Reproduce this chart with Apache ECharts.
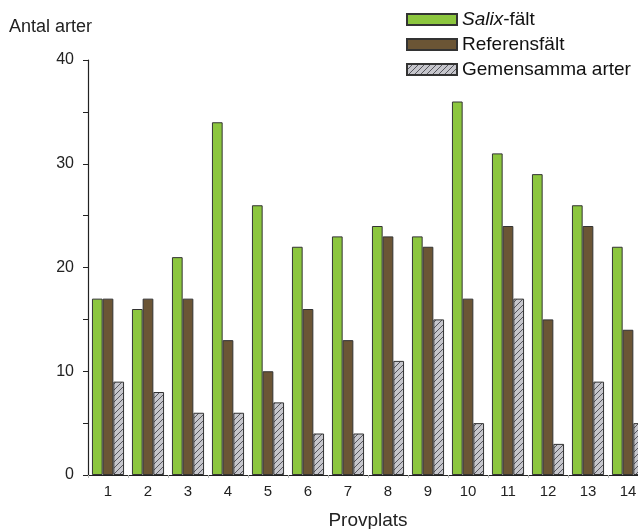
<!DOCTYPE html>
<html><head><meta charset="utf-8">
<script src="https://cdn.jsdelivr.net/npm/echarts@6/dist/echarts.min.js"></script>
<style>html,body{margin:0;padding:0;background:#fff}#c{width:638px;height:529px}</style>
</head><body><div id="c"></div>
<script>
var categories = ['1','2','3','4','5','6','7','8','9','10','11','12','13','14'];
var salix = [17,16,21,34,26,22,23,24,23,36,31,29,26,22];
var referens = [17,17,17,13,10,16,13,23,22,17,24,15,24,14];
var gemensamma = [9,8,6,6,7,4,4,11,15,5,17,3,9,5];
var seriesNames = ['Salix-fält','Referensfält','Gemensamma arter'];

function hatch(){
  var c = document.createElement('canvas');
  c.width = 6; c.height = 6;
  var g = c.getContext('2d');
  g.fillStyle = '#c6c6cc'; g.fillRect(0,0,6,6);
  g.strokeStyle = '#4a4a50'; g.lineWidth = 0.9;
  g.beginPath();
  g.moveTo(0,6); g.lineTo(6,0);
  g.moveTo(-3,3); g.lineTo(3,-3);
  g.moveTo(3,9); g.lineTo(9,3);
  g.stroke();
  return {image: c, repeat: 'repeat'};
}
var hatchFill = hatch();

var chart = echarts.init(document.getElementById('c'), null, {renderer:'canvas'});
var font = 'Arial, "Liberation Sans", sans-serif';
chart.setOption({
  animation: false,
  textStyle: {fontFamily: font},
  grid: {left: 88, width: 560, top: 60, bottom: 54, containLabel: false, outerBoundsMode: 'none'},
  legend: {
    orient: 'vertical', left: 401, top: 5, itemWidth: 50, itemHeight: 11, itemGap: 6,
    textStyle: {fontSize: 19, color: '#111', fontFamily: font,
      rich: {i: {fontStyle: 'italic', fontSize: 19, color: '#111', fontFamily: font}, n: {fontSize: 19, color: '#111', fontFamily: font}}},
    formatter: function(n){ return n === 'Salix-fält' ? '{i|Salix}{n|-fält}' : n; },
    data: seriesNames.map(function(n){return {name:n, icon:'rect'};})
  },
  xAxis: {
    type: 'category', data: categories,
    name: 'Provplats', nameLocation: 'middle', nameGap: 36,
    nameTextStyle: {fontSize: 19, color: '#222'},
    axisLine: {lineStyle: {color: '#222', width: 1}},
    axisTick: {show: true, length: 3, lineStyle: {color: '#bbb'}},
    axisLabel: {fontSize: 15, color: '#222', margin: 9}
  },
  yAxis: {
    type: 'value', min: 0, max: 40, interval: 10,
    name: 'Antal arter', nameLocation: 'end', nameGap: 24,
    nameTextStyle: {fontSize: 18, color: '#222', align: 'left', padding: [0,0,0,-79]},
    axisLine: {show: true, lineStyle: {color: '#222', width: 1.2}},
    axisTick: {show: true, length: 5, lineStyle: {color: '#222'}},
    minorTick: {show: true, splitNumber: 2, length: 5, lineStyle: {color: '#222'}},
    splitLine: {show: false},
    axisLabel: {fontSize: 16, color: '#222', margin: 14}
  },
  series: [
    {name: seriesNames[0], type: 'bar', data: salix, barWidth: 10.7, barGap: '0%',
     itemStyle: {color: '#8cc63e', borderColor: '#333', borderWidth: 1}},
    {name: seriesNames[1], type: 'bar', data: referens, barWidth: 10.7, barGap: '0%',
     itemStyle: {color: '#6b5535', borderColor: '#333', borderWidth: 1}},
    {name: seriesNames[2], type: 'bar', data: gemensamma, barWidth: 10.7, barGap: '0%',
     itemStyle: {color: hatchFill, borderColor: '#333', borderWidth: 1}}
  ]
});
</script></body></html>
